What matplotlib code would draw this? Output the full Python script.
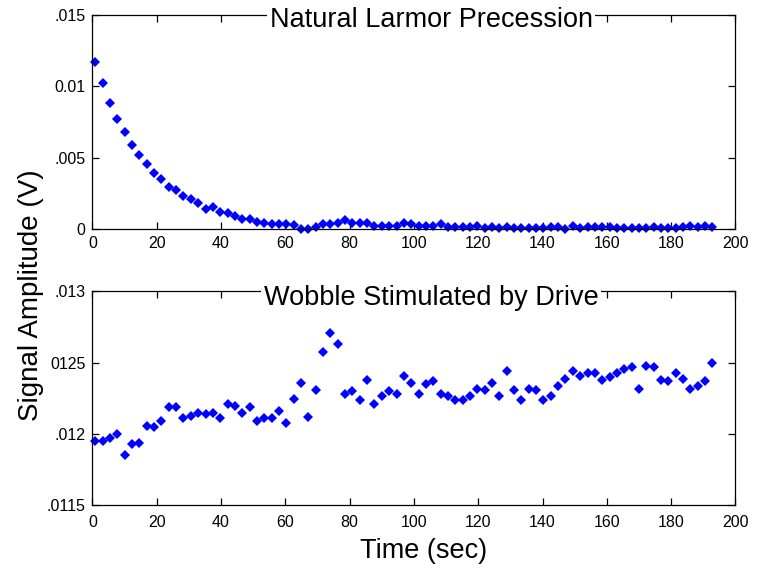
import numpy as np
import matplotlib
matplotlib.use("Agg")
import matplotlib.pyplot as plt

plt.rcParams['font.family'] = ['Liberation Sans', 'DejaVu Sans']

# Sampling: uniform time steps (seconds)
t_start = 0.9
t_step = 2.285
n_samples = 85

# Free precession amplitude (V)
larmor_amp = [
    0.01171, 0.01022, 0.00882, 0.00772, 0.00681, 0.00590, 0.00520, 0.00452, 0.00392, 0.00350,
    0.00291, 0.00270, 0.00233, 0.00210, 0.00182, 0.00142, 0.00154, 0.00121, 0.00112, 0.00093,
    0.00072, 0.00072, 0.00051, 0.00042, 0.00035, 0.00035, 0.00035, 0.00025, 0.00000, 0.00000,
    0.00014, 0.00035, 0.00035, 0.00044, 0.00063, 0.00044, 0.00044, 0.00044, 0.00023, 0.00023,
    0.00023, 0.00023, 0.00044, 0.00035, 0.00023, 0.00023, 0.00023, 0.00035, 0.00014, 0.00014,
    0.00014, 0.00014, 0.00023, 0.00004, 0.00014, 0.00004, 0.00014, 0.00004, 0.00004, 0.00004,
    0.00004, 0.00004, 0.00014, 0.00014, 0.00000, 0.00023, 0.00004, 0.00014, 0.00014, 0.00014,
    0.00014, 0.00004, 0.00004, 0.00004, 0.00004, 0.00004, 0.00014, 0.00004, 0.00004, 0.00004,
    0.00014, 0.00023, 0.00014, 0.00023, 0.00014,
]

# Driven wobble amplitude (V)
wobble_amp = [
    0.011948, 0.011948, 0.011969, 0.012000, 0.011850, 0.011930, 0.011939, 0.012058, 0.012046, 0.012091,
    0.012187, 0.012187, 0.012110, 0.012128, 0.012149, 0.012138, 0.012149, 0.012110, 0.012210, 0.012198,
    0.012149, 0.012189, 0.012089, 0.012110, 0.012110, 0.012161, 0.012079, 0.012248, 0.012360, 0.012119,
    0.012308, 0.012577, 0.012708, 0.012629, 0.012280, 0.012299, 0.012238, 0.012378, 0.012208, 0.012269,
    0.012299, 0.012280, 0.012409, 0.012360, 0.012280, 0.012350, 0.012369, 0.012280, 0.012269, 0.012238,
    0.012238, 0.012269, 0.012318, 0.012308, 0.012360, 0.012269, 0.012439, 0.012308, 0.012238, 0.012318,
    0.012308, 0.012238, 0.012269, 0.012339, 0.012388, 0.012439, 0.012409, 0.012430, 0.012430, 0.012378,
    0.012397, 0.012430, 0.012458, 0.012467, 0.012318, 0.012479, 0.012467, 0.012378, 0.012369, 0.012430,
    0.012388, 0.012318, 0.012339, 0.012369, 0.012498,
]

x_ticks = [0, 20, 40, 60, 80, 100, 120, 140, 160, 180, 200]
x_tick_labels = [str(v) for v in x_ticks]
top_y_ticks = [0.0, 0.005, 0.01, 0.015]
top_y_labels = ['0', '.005', '0.01', '.015']
bot_y_ticks = [0.0115, 0.012, 0.0125, 0.013]
bot_y_labels = ['.0115', '.012', '0125', '.013']

time = t_start + t_step * np.arange(n_samples)

fig = plt.figure(figsize=(7.57, 5.69), dpi=100)
ax_top = fig.add_axes([0.1221, 0.5975, 0.8494, 0.3767])
ax_bot = fig.add_axes([0.1221, 0.1120, 0.8494, 0.3763])

tick_fs = 11.5
for ax in (ax_top, ax_bot):
    ax.set_xlim(0, 200)
    ax.set_xticks(x_ticks)
    ax.set_xticklabels(x_tick_labels)
    ax.tick_params(direction='in', length=5, width=0.9, top=True, right=True,
                   labelsize=tick_fs, colors='black', pad=5)
    for s in ax.spines.values():
        s.set_linewidth(0.9)
        s.set_color('black')
ax_bot.tick_params(axis='x', pad=7)

marker_style = dict(linestyle='none', marker='D', markersize=5.2,
                    color='#0000ff', markeredgewidth=0, clip_on=False)

ax_top.plot(time, larmor_amp, **marker_style)
ax_top.set_ylim(0, 0.015)
ax_top.set_yticks(top_y_ticks)
ax_top.set_yticklabels(top_y_labels)

ax_bot.plot(time, wobble_amp, **marker_style)
ax_bot.set_ylim(0.0115, 0.013)
ax_bot.set_yticks(bot_y_ticks)
ax_bot.set_yticklabels(bot_y_labels)

title_box = dict(facecolor='white', edgecolor='none', pad=2)
ax_top.text(0.527, 0.975, 'Natural Larmor Precession', transform=ax_top.transAxes,
            ha='center', va='center', fontsize=19.5, bbox=title_box, zorder=5)
ax_bot.text(0.527, 0.970, 'Wobble Stimulated by Drive', transform=ax_bot.transAxes,
            ha='center', va='center', fontsize=19.5, bbox=title_box, zorder=5)

fig.text(0.041, 0.4815, 'Signal Amplitude (V)', rotation=90, ha='center', va='center',
         fontsize=20)
fig.text(0.559, 0.031, 'Time (sec)', ha='center', va='center', fontsize=19.5)

fig.savefig('out.png', dpi=100)
